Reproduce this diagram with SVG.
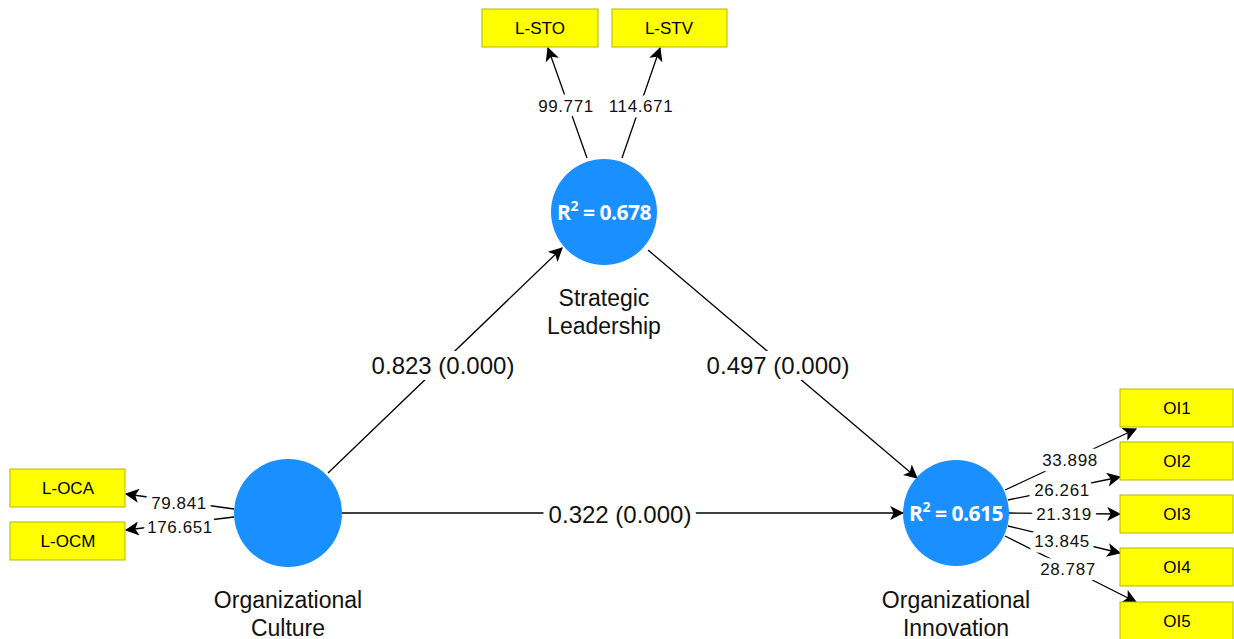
<svg xmlns="http://www.w3.org/2000/svg" width="1234" height="639" viewBox="0 0 1234 639">
<defs>
<marker id="ah" viewBox="0 0 12 12" refX="11" refY="6" markerWidth="14" markerHeight="14" markerUnits="userSpaceOnUse" orient="auto">
<path d="M0,0 L12,6 L0,12 L3,6 Z" fill="#000"/>
</marker>
<style>
.lv{fill:#1a8fff;}
.ind{fill:#ffff00;stroke:#b5b500;stroke-width:1;}
.it{font-family:"Liberation Sans",Arial,sans-serif;font-size:17px;fill:#000;text-anchor:middle;dominant-baseline:central;}
.nm{font-family:"Liberation Sans",Arial,sans-serif;font-size:23px;fill:#111;text-anchor:middle;}
.r2{font-family:"Open Sans",sans-serif;font-weight:bold;font-size:21px;fill:#fff;text-anchor:middle;dominant-baseline:central;letter-spacing:-0.5px;}
.ln{stroke:#000;stroke-width:1.3;fill:none;marker-end:url(#ah);}
.pl{font-family:"Liberation Sans",Arial,sans-serif;font-size:24px;fill:#111;text-anchor:middle;dominant-baseline:central;stroke:#fff;stroke-width:12;paint-order:stroke;}
.ll{font-family:"Liberation Sans",Arial,sans-serif;font-size:17px;letter-spacing:0.6px;fill:#111;text-anchor:middle;dominant-baseline:central;stroke:#fff;stroke-width:11;stroke-linejoin:round;paint-order:stroke;}
</style>
</defs>
<rect width="1234" height="639" fill="#fff"/>
<g id="connectors">
<line class="ln" x1="328" y1="473" x2="562" y2="248"/>
<line class="ln" x1="648" y1="250" x2="917" y2="478"/>
<line class="ln" x1="342" y1="513" x2="903" y2="513"/>
<line class="ln" x1="587" y1="158" x2="548" y2="48"/>
<line class="ln" x1="622" y1="158" x2="660" y2="48"/>
<line class="ln" x1="234" y1="509" x2="126" y2="494"/>
<line class="ln" x1="234" y1="517" x2="126" y2="530"/>
<line class="ln" x1="1005" y1="490" x2="1136" y2="429"/>
<line class="ln" x1="1008" y1="500" x2="1120" y2="477"/>
<line class="ln" x1="1009" y1="513" x2="1120" y2="514"/>
<line class="ln" x1="1008" y1="526" x2="1120" y2="553"/>
<line class="ln" x1="1005" y1="536" x2="1136" y2="602"/>
<text class="pl" x="443" y="365">0.823 (0.000)</text>
<text class="pl" x="778" y="365">0.497 (0.000)</text>
<text class="pl" x="620" y="514">0.322 (0.000)</text>
<text class="ll" x="566" y="106">99.771</text>
<text class="ll" x="641" y="106">114.671</text>
<text class="ll" x="179" y="503">79.841</text>
<text class="ll" x="180" y="527">176.651</text>
<text class="ll" x="1070" y="460">33.898</text>
<text class="ll" x="1062" y="490">26.261</text>
<text class="ll" x="1064" y="514">21.319</text>
<text class="ll" x="1062" y="541">13.845</text>
<text class="ll" x="1068" y="569">28.787</text>
</g>
<g id="node-sl">
<circle class="lv" cx="604" cy="212" r="53"/>
<text class="r2" x="604" y="212">R<tspan font-size="14" dy="-7">2</tspan><tspan dy="7"> = 0.678</tspan></text>
<text class="nm" x="604" y="306">Strategic</text>
<text class="nm" x="604" y="334">Leadership</text>
</g>
<g id="node-oc">
<circle class="lv" cx="288" cy="513" r="54"/>
<text class="nm" x="288" y="608">Organizational</text>
<text class="nm" x="288" y="636">Culture</text>
</g>
<g id="node-oi">
<circle class="lv" cx="956" cy="513" r="53"/>
<text class="r2" x="956" y="513">R<tspan font-size="14" dy="-7">2</tspan><tspan dy="7"> = 0.615</tspan></text>
<text class="nm" x="956" y="608">Organizational</text>
<text class="nm" x="956" y="636">Innovation</text>
</g>
<g id="node-lsto"><rect class="ind" x="482" y="9" width="116" height="38"/><text class="it" x="540" y="28">L-STO</text></g>
<g id="node-lstv"><rect class="ind" x="612" y="9" width="115" height="38"/><text class="it" x="669" y="28">L-STV</text></g>
<g id="node-loca"><rect class="ind" x="10" y="469" width="115" height="38"/><text class="it" x="68" y="488">L-OCA</text></g>
<g id="node-locm"><rect class="ind" x="10" y="522" width="115" height="38"/><text class="it" x="68" y="541">L-OCM</text></g>
<g id="node-oi1"><rect class="ind" x="1120" y="389" width="113" height="38"/><text class="it" x="1177" y="408">OI1</text></g>
<g id="node-oi2"><rect class="ind" x="1120" y="442" width="113" height="38"/><text class="it" x="1177" y="461">OI2</text></g>
<g id="node-oi3"><rect class="ind" x="1120" y="495" width="113" height="38"/><text class="it" x="1177" y="514">OI3</text></g>
<g id="node-oi4"><rect class="ind" x="1120" y="548" width="113" height="38"/><text class="it" x="1177" y="567">OI4</text></g>
<g id="node-oi5"><rect class="ind" x="1120" y="602" width="113" height="38"/><text class="it" x="1177" y="621">OI5</text></g>
</svg>
